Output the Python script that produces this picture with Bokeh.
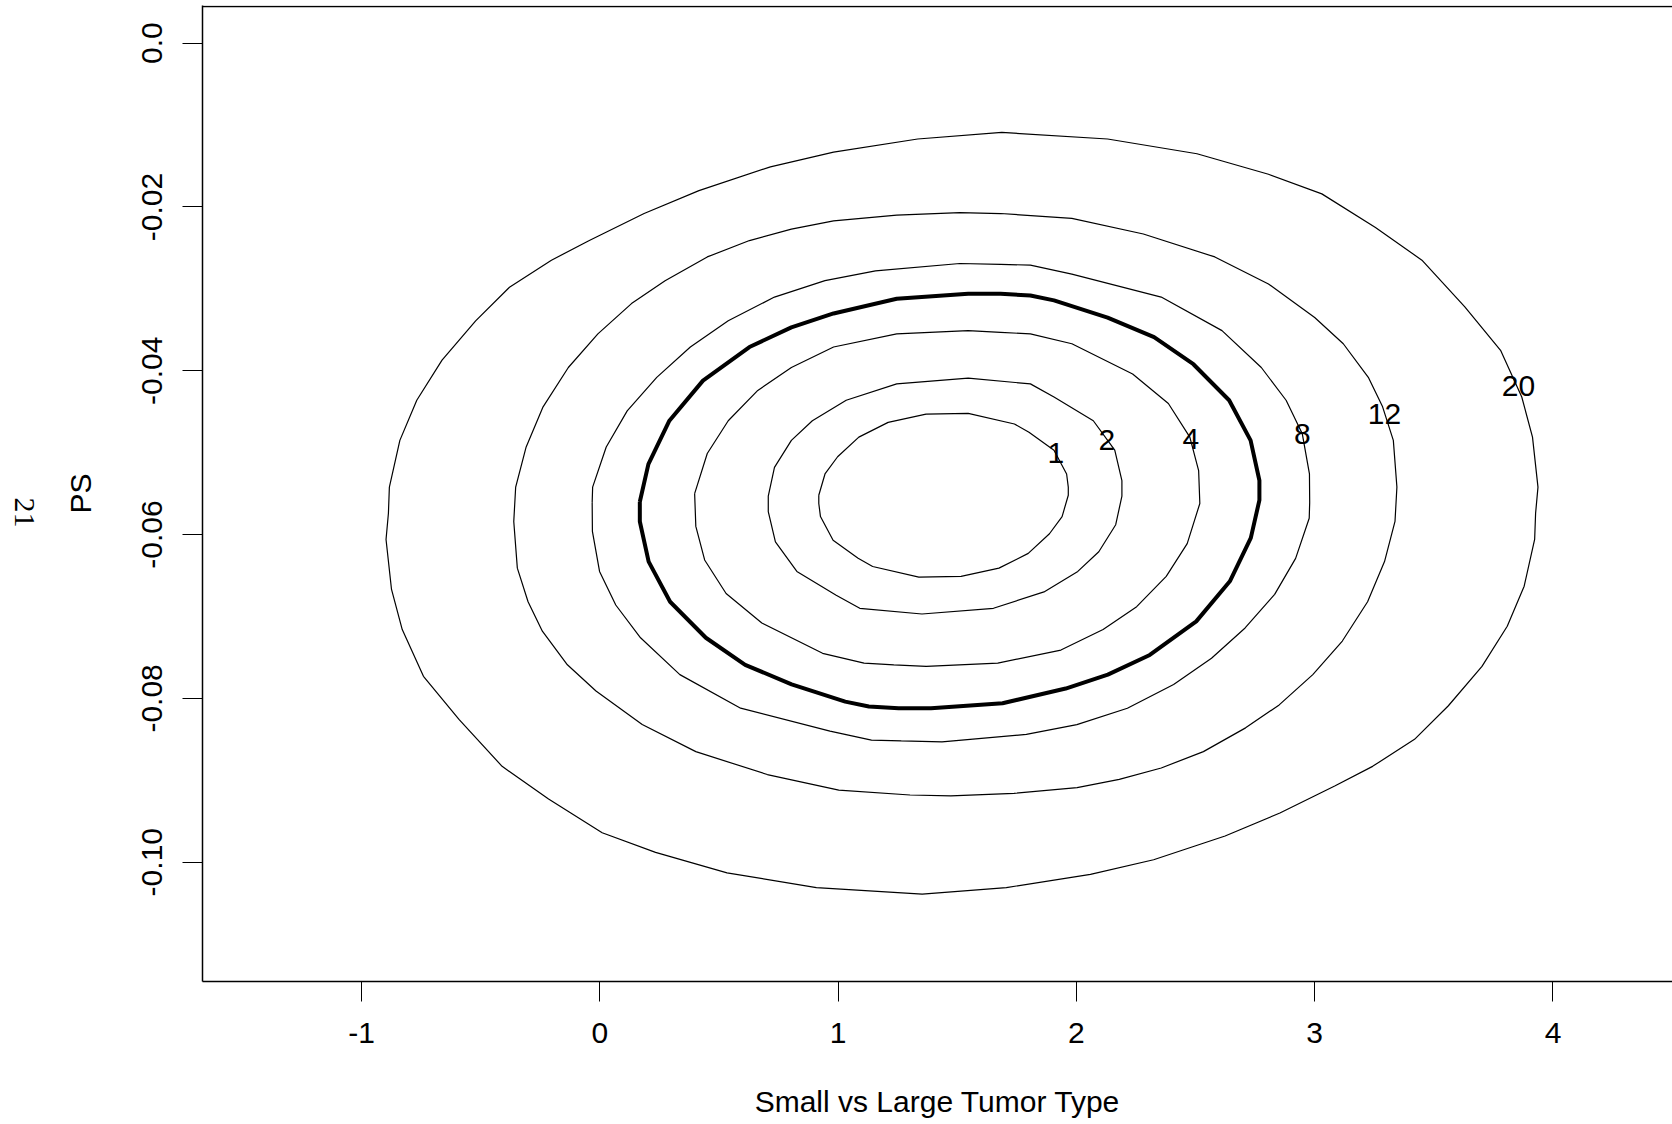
import math
from bokeh.plotting import figure
from bokeh.layouts import row
from bokeh.models import Range1d, FixedTicker, Span
from bokeh.core.properties import value
from bokeh.embed import file_html
from bokeh.resources import INLINE

# ---------------- data ----------------
x_ticks = [-1, 0, 1, 2, 3, 4]
x_tick_labels = ["-1", "0", "1", "2", "3", "4"]
y_ticks = [0.0, -0.02, -0.04, -0.06, -0.08, -0.10]
y_tick_labels = ["0.0", "-0.02", "-0.04", "-0.06", "-0.08", "-0.10"]

# contour "1"
c1_x = [0.919, 0.945, 0.998, 1.087, 1.210, 1.369, 1.546, 1.740, 1.801, 1.906, 1.959, 1.966,
        1.966, 1.940, 1.887, 1.798, 1.675, 1.516, 1.339, 1.145, 1.084, 0.979, 0.926, 0.919]
c1_y = [-0.0552, -0.0526, -0.0505, -0.0481, -0.0463, -0.0453, -0.0452, -0.0465, -0.0475, -0.0497, -0.0526, -0.0542,
        -0.0552, -0.0578, -0.0599, -0.0623, -0.0641, -0.0651, -0.0652, -0.0639, -0.0629, -0.0607, -0.0578, -0.0562]
# contour "2"
c2_x = [0.707, 0.733, 0.804, 0.892, 1.034, 1.246, 1.546, 1.807, 1.906, 2.071, 2.161, 2.191,
        2.191, 2.165, 2.094, 2.006, 1.864, 1.652, 1.352, 1.091, 0.992, 0.827, 0.737, 0.707]
c2_y = [-0.0553, -0.0518, -0.0485, -0.0461, -0.0436, -0.0416, -0.0409, -0.0416, -0.0432, -0.0461, -0.0497, -0.0534,
        -0.0553, -0.0588, -0.0621, -0.0645, -0.0670, -0.0690, -0.0697, -0.0690, -0.0674, -0.0645, -0.0609, -0.0572]
# contour "4"
c4_x = [0.398, 0.451, 0.539, 0.663, 0.804, 0.981, 1.246, 1.546, 1.682, 1.807, 1.981, 2.236, 2.386, 2.476, 2.513,
        2.518, 2.465, 2.377, 2.253, 2.112, 1.935, 1.670, 1.370, 1.234, 1.109, 0.935, 0.680, 0.530, 0.440, 0.403]
c4_y = [-0.0550, -0.0501, -0.0461, -0.0424, -0.0396, -0.0371, -0.0355, -0.0351, -0.0353, -0.0355, -0.0367, -0.0404, -0.0440, -0.0481, -0.0522,
        -0.0562, -0.0611, -0.0651, -0.0688, -0.0716, -0.0741, -0.0757, -0.0761, -0.0759, -0.0757, -0.0745, -0.0708, -0.0672, -0.0631, -0.0590]
# bold (unlabelled) contour
cb_x = [0.168, 0.204, 0.292, 0.433, 0.628, 0.804, 0.981, 1.246, 1.546, 1.682, 1.807, 1.906, 2.131, 2.326, 2.491, 2.641, 2.731, 2.768,
        2.768, 2.732, 2.644, 2.503, 2.308, 2.132, 1.955, 1.690, 1.390, 1.254, 1.129, 1.030, 0.805, 0.610, 0.445, 0.295, 0.205, 0.168]
cb_y = [-0.0560, -0.0514, -0.0461, -0.0412, -0.0371, -0.0347, -0.0330, -0.0312, -0.0306, -0.0306, -0.0308, -0.0314, -0.0335, -0.0359, -0.0392, -0.0436, -0.0485, -0.0534,
        -0.0558, -0.0604, -0.0657, -0.0706, -0.0747, -0.0771, -0.0788, -0.0806, -0.0812, -0.0812, -0.0810, -0.0804, -0.0783, -0.0759, -0.0726, -0.0682, -0.0633, -0.0584]
# contour "8"
c8_x = [-0.032, -0.030, 0.027, 0.115, 0.239, 0.380, 0.539, 0.733, 0.945, 1.157, 1.511, 1.682, 1.807, 1.981, 2.356, 2.611, 2.776, 2.880, 2.948, 2.978,
        2.979, 2.977, 2.920, 2.832, 2.708, 2.567, 2.408, 2.214, 2.002, 1.790, 1.436, 1.265, 1.140, 0.966, 0.591, 0.336, 0.171, 0.067, -0.001, -0.031]
c8_y = [-0.0561, -0.0542, -0.0493, -0.0449, -0.0408, -0.0371, -0.0339, -0.0310, -0.0290, -0.0278, -0.0269, -0.0270, -0.0271, -0.0282, -0.0310, -0.0351, -0.0396, -0.0436, -0.0477, -0.0526,
        -0.0561, -0.0580, -0.0629, -0.0673, -0.0714, -0.0751, -0.0783, -0.0812, -0.0832, -0.0844, -0.0853, -0.0852, -0.0851, -0.0840, -0.0812, -0.0771, -0.0726, -0.0686, -0.0645, -0.0596]
# contour "12"
c12_x = [-0.357, -0.353, -0.309, -0.238, -0.132, -0.008, 0.133, 0.274, 0.451, 0.628, 0.804, 0.981, 1.246, 1.511, 1.682, 1.981, 2.281, 2.581, 2.806, 3.000, 3.120, 3.225, 3.285, 3.330, 3.345,
         3.341, 3.337, 3.293, 3.222, 3.116, 2.992, 2.851, 2.710, 2.533, 2.356, 2.180, 2.003, 1.738, 1.473, 1.302, 1.003, 0.703, 0.403, 0.178, -0.016, -0.136, -0.241, -0.301, -0.346, -0.361]
c12_y = [-0.0563, -0.0542, -0.0493, -0.0444, -0.0396, -0.0355, -0.0318, -0.0290, -0.0261, -0.0241, -0.0227, -0.0217, -0.0210, -0.0207, -0.0208, -0.0214, -0.0233, -0.0261, -0.0294, -0.0335, -0.0367, -0.0408, -0.0444, -0.0485, -0.0542,
         -0.0563, -0.0584, -0.0633, -0.0682, -0.0730, -0.0771, -0.0808, -0.0836, -0.0865, -0.0885, -0.0899, -0.0909, -0.0916, -0.0919, -0.0918, -0.0912, -0.0893, -0.0865, -0.0832, -0.0791, -0.0759, -0.0718, -0.0682, -0.0641, -0.0584]
# contour "20"
c20_x = [-0.887, -0.883, -0.839, -0.768, -0.662, -0.521, -0.379, -0.203, -0.044, 0.186, 0.416, 0.716, 0.981, 1.334, 1.687, 2.131, 2.506, 2.806, 3.030, 3.255, 3.450, 3.630, 3.780, 3.869, 3.914, 3.937,
         3.927, 3.923, 3.879, 3.808, 3.702, 3.561, 3.419, 3.243, 3.084, 2.854, 2.624, 2.324, 2.059, 1.706, 1.353, 0.909, 0.534, 0.234, 0.010, -0.215, -0.410, -0.590, -0.740, -0.829, -0.874, -0.897]
c20_y = [-0.0574, -0.0542, -0.0485, -0.0436, -0.0387, -0.0339, -0.0298, -0.0265, -0.0241, -0.0208, -0.0180, -0.0151, -0.0133, -0.0117, -0.0109, -0.0117, -0.0135, -0.0160, -0.0184, -0.0225, -0.0265, -0.0322, -0.0375, -0.0432, -0.0481, -0.0542,
         -0.0574, -0.0606, -0.0663, -0.0712, -0.0761, -0.0809, -0.0850, -0.0883, -0.0907, -0.0940, -0.0968, -0.0997, -0.1015, -0.1031, -0.1039, -0.1031, -0.1013, -0.0988, -0.0964, -0.0923, -0.0883, -0.0826, -0.0773, -0.0716, -0.0667, -0.0606]

level_labels = ["1", "2", "4", "8", "12", "20"]
level_label_x = [1.914, 2.128, 2.480, 2.948, 3.293, 3.855]
level_label_y = [-0.0501, -0.0485, -0.0483, -0.0477, -0.0453, -0.0418]

x_title = "Small vs Large Tumor Type"
y_title = "PS"
page_number = ["21"]

# ---------------- layout ----------------
X0, X1 = -1.6672, 4.5015
Y0, Y1 = -0.11457, 0.0046
FONT = "Liberation Sans"
FS = "30px"
H = 1124
TOP, BOTTOM = 5, 143
SIDE_W = 46

# narrow strip on the left carrying the page number
side = figure(width=SIDE_W, height=H, output_backend="svg", toolbar_location=None, title=None,
              x_range=Range1d(0, SIDE_W), y_range=Range1d(Y0, Y1),
              min_border_left=0, min_border_right=0, min_border_top=TOP, min_border_bottom=BOTTOM)
side.axis.visible = False
side.grid.visible = False
side.outline_line_color = None
side.text(x=[24], y=[-0.0573], text=page_number, angle=-math.pi / 2,
          text_font=value("Liberation Serif"), text_font_size="30px", text_color="black",
          text_align="center", text_baseline="middle")

p = figure(width=1672 - SIDE_W, height=H, output_backend="svg", toolbar_location=None,
           title=None, x_range=Range1d(X0, X1), y_range=Range1d(Y0, Y1),
           min_border_left=202 - SIDE_W, min_border_right=0, min_border_top=TOP, min_border_bottom=BOTTOM)
p.grid.visible = False
p.outline_line_color = None

for ax in (p.xaxis[0], p.yaxis[0]):
    ax.axis_line_color = "black"
    ax.axis_line_width = 1.5
    ax.major_tick_line_color = "black"
    ax.major_tick_line_width = 1
    ax.major_tick_out = 20
    ax.major_tick_in = 0
    ax.minor_tick_out = 0
    ax.minor_tick_in = 0
    ax.major_label_text_font = FONT
    ax.major_label_text_font_size = FS
    ax.major_label_text_color = "black"
    ax.axis_label_text_font = FONT
    ax.axis_label_text_font_size = FS
    ax.axis_label_text_font_style = "normal"
    ax.axis_label_text_color = "black"

p.xaxis.ticker = FixedTicker(ticks=x_ticks)
p.xaxis.major_label_overrides = dict(zip(x_ticks, x_tick_labels))
p.xaxis.axis_label = x_title
p.xaxis.major_label_standoff = 21
p.xaxis.axis_label_standoff = 39

p.yaxis.ticker = FixedTicker(ticks=y_ticks)
p.yaxis.major_label_overrides = dict(zip(y_ticks, y_tick_labels))
p.yaxis.axis_label = y_title
p.yaxis.major_label_orientation = "vertical"
p.yaxis.major_label_standoff = 20
p.yaxis.axis_label_standoff = 43

# top edge of the box
p.add_layout(Span(location=Y1 - 0.00012, dimension="width", line_color="black", line_width=1.5))

thin = [(c1_x, c1_y), (c2_x, c2_y), (c4_x, c4_y), (c8_x, c8_y), (c12_x, c12_y), (c20_x, c20_y)]
for xs, ys in thin:
    p.line(xs + xs[:1], ys + ys[:1], line_color="black", line_width=1.2)
p.line(cb_x + cb_x[:1], cb_y + cb_y[:1], line_color="black", line_width=4)

p.text(x=level_label_x, y=level_label_y, text=level_labels,
       text_font=value(FONT), text_font_size=FS, text_color="black",
       text_align="center", text_baseline="middle")

layout = row(side, p, spacing=0)
open("out.html", "w").write(file_html(layout, INLINE))
